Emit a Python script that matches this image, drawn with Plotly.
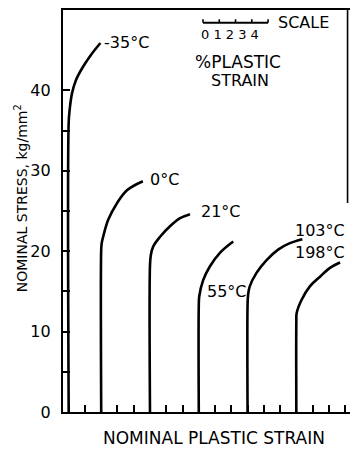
import plotly.graph_objects as go

# ---- data (strain in %, stress in kg/mm^2) ----
labels = ["-35°C", "0°C", "21°C", "55°C", "103°C", "198°C"]
offsets = [0, 2, 5, 8, 11, 14]  # horizontal shift of each curve (% strain)

strain_m35 = [0, 0, 0.06, 0.2, 0.45, 0.9, 1.4, 1.95]
stress_m35 = [0, 36.0, 37.6, 39.6, 41.3, 43.0, 44.5, 45.9]

strain_0 = [0, 0, 0.03, 0.12, 0.43, 0.98, 1.6, 2.56]
stress_0 = [0, 20.2, 21.0, 21.8, 23.9, 26.0, 27.6, 28.7]

strain_21 = [0, 0, 0.05, 0.2, 0.62, 1.23, 1.85, 2.46]
stress_21 = [0, 18.2, 19.5, 20.6, 21.8, 23.1, 24.1, 24.6]

strain_55 = [0, 0, 0.03, 0.27, 0.68, 1.3, 2.12]
stress_55 = [0, 13.2, 14.4, 16.4, 18.1, 19.8, 21.2]

strain_103 = [0, 0, 0.03, 0.13, 0.55, 1.17, 1.88, 2.6, 3.37]
stress_103 = [0, 13.3, 14.5, 15.6, 17.3, 18.9, 20.2, 21.0, 21.5]

strain_198 = [0, 0, 0.02, 0.31, 0.82, 1.44, 2.05, 2.69]
stress_198 = [0, 11.2, 12.3, 13.9, 15.6, 16.8, 17.9, 18.6]

curves_strain = [strain_m35, strain_0, strain_21, strain_55, strain_103, strain_198]
curves_stress = [stress_m35, stress_0, stress_21, stress_55, stress_103, stress_198]

# label anchor positions (x in chart strain units, y in stress)
label_x = [2.05, 4.89, 8.03, 8.4, 17.13, 17.13]
label_y = [46.0, 28.9, 24.9, 15.0, 22.6, 19.9]
label_anchor = ["left", "left", "left", "left", "right", "right"]

y_ticks = [0, 10, 20, 30, 40]
y_minor_ticks = [5, 15, 25, 35]
x_ticks = list(range(0, 18))

# scale inset
scale_ticks = [0, 1, 2, 3, 4]
scale_origin = 8.26
scale_y = 48.4

FONT = "DejaVu Sans"

fig = go.Figure()

for sx, sy, off in zip(curves_strain, curves_stress, offsets):
    fig.add_trace(go.Scatter(
        x=[v + off for v in sx], y=sy, mode="lines",
        line=dict(color="black", width=2.6, shape="spline", smoothing=1.0),
        showlegend=False, hoverinfo="skip"))

# scale bar
fig.add_trace(go.Scatter(
    x=[scale_origin + scale_ticks[0], scale_origin + scale_ticks[-1]],
    y=[scale_y, scale_y], mode="lines",
    line=dict(color="black", width=2), showlegend=False, hoverinfo="skip"))
tx, ty = [], []
for t in scale_ticks:
    tx += [scale_origin + t, scale_origin + t, None]
    ty += [scale_y, scale_y + 0.45, None]
fig.add_trace(go.Scatter(x=tx, y=ty, mode="lines",
                         line=dict(color="black", width=1.6),
                         showlegend=False, hoverinfo="skip"))

# partial right border of frame
fig.add_shape(type="line", xref="x", yref="y", x0=17.15, x1=17.15, y0=26, y1=50,
              line=dict(color="black", width=1.6))

annotations = []
for lab, lx, ly, anc in zip(labels, label_x, label_y, label_anchor):
    annotations.append(dict(x=lx, y=ly, xref="x", yref="y", text=lab,
                            showarrow=False, xanchor=anc, yanchor="middle",
                            font=dict(family=FONT, size=16, color="black")))

annotations += [
    dict(x=12.74, y=48.4, xref="x", yref="y", text="SCALE", showarrow=False,
         xanchor="left", yanchor="middle", font=dict(family=FONT, size=16, color="black")),
    dict(x=8.0, y=46.9, xref="x", yref="y", text="0 1 2 3 4", showarrow=False,
         xanchor="left", yanchor="middle", font=dict(family=FONT, size=13, color="black")),
    dict(x=10.43, y=43.5, xref="x", yref="y", text="%PLASTIC", showarrow=False,
         xanchor="center", yanchor="middle", font=dict(family=FONT, size=17, color="black")),
    dict(x=10.55, y=41.2, xref="x", yref="y", text="STRAIN", showarrow=False,
         xanchor="center", yanchor="middle", font=dict(family=FONT, size=16, color="black")),
    dict(x=8.93, y=-0.065, xref="x", yref="paper", text="NOMINAL PLASTIC STRAIN",
         showarrow=False, xanchor="center", yanchor="middle",
         font=dict(family=FONT, size=17, color="black")),
    dict(x=-0.146, y=26.6, xref="paper", yref="y", text="NOMINAL STRESS, kg/mm<sup>2</sup>",
         showarrow=False, xanchor="center", yanchor="middle", textangle=-90,
         font=dict(family=FONT, size=14, color="black")),
]

fig.update_layout(
    width=352, height=449,
    margin=dict(l=63, r=2, t=10, b=37),
    paper_bgcolor="white", plot_bgcolor="white",
    font=dict(family=FONT, color="black"),
    annotations=annotations,
    showlegend=False,
)

fig.update_xaxes(
    range=[-0.35, 17.3], showgrid=False, zeroline=False,
    showline=True, linecolor="black", linewidth=2.4, mirror=True,
    tickvals=x_ticks, ticks="inside", ticklen=7, tickwidth=2, tickcolor="black",
    showticklabels=False,
)
fig.update_yaxes(
    range=[0, 50], showgrid=False, zeroline=False,
    showline=True, linecolor="black", linewidth=2.4,
    tickvals=y_ticks, ticks="inside", ticklen=7, tickwidth=2, tickcolor="black",
    tickfont=dict(family=FONT, size=16, color="black"),
    ticklabelstandoff=7,
    minor=dict(tickvals=y_minor_ticks, ticks="inside", ticklen=7,
               tickwidth=2, tickcolor="black"),
)

fig.write_html("out.html")
